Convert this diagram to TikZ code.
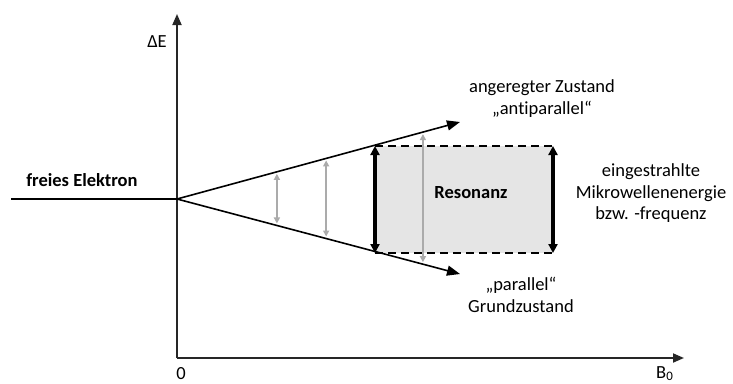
\documentclass[tikz,border=0pt]{standalone}
\usepackage{fontspec}
\setmainfont{Carlito}[Ligatures=NoCommon]
\usetikzlibrary{arrows.meta,calc}

\begin{document}
\begin{tikzpicture}[x=1pt,y=-1pt,
    lbl/.style={font=\fontsize{18.5}{21.5}\selectfont, align=center, inner sep=0pt},
    fett/.style={lbl, font=\fontsize{18.5}{21.5}\selectfont\bfseries},
    achse/.style={line width=1.8pt, draw=black!85, -{Triangle[length=11pt,width=9pt]}},
    niveau/.style={line width=1.6pt, -{Triangle[length=13pt,width=10pt]}},
    grauer/.style={draw=black!33, line width=1.8pt, shorten <=2pt, shorten >=2pt,
        {Triangle[length=6pt,width=6pt]}-{Triangle[length=6pt,width=6pt]}},
    dicker/.style={line width=3.2pt, {Triangle[length=9pt,width=9pt]}-{Triangle[length=9pt,width=9pt]}}]

    \useasboundingbox (0,0) rectangle (733,383);

    % Achsen
    \coordinate (O) at (177,358);
    \coordinate (Yend) at (177,14);
    \coordinate (Xend) at (684,358);
    \draw[achse] (O) -- (Yend);
    \draw[achse] (O) -- (Xend);
    \node[lbl, anchor=base] (dE) at (157,47) {ΔE};
    \node[lbl, anchor=base] (null) at (181,379) {0};
    \node[lbl, anchor=base west] (B0) at (656,378) {B\textsubscript{0}};

    % freies Elektron
    \coordinate (frei) at (11,199);
    \coordinate (S) at (177,199);
    \draw[line width=1.6pt] (frei) -- (S);
    \node[fett, anchor=base] (elektron) at (82,186) {freies Elektron};

    % Resonanzbereich
    \coordinate (R1) at (375,146);
    \coordinate (R2) at (553,253);
    \fill[black!10] (R1) rectangle (R2);
    \draw[line width=1.5pt, dash pattern=on 8pt off 5pt] (R1) -- (R1 -| R2);
    \draw[line width=1.5pt, dash pattern=on 8pt off 5pt] (R1 |- R2) -- (R2);

    % Aufspaltung
    \coordinate (oben) at (460,122);
    \coordinate (unten) at (460,274);
    \draw[niveau] (S) -- (oben);
    \draw[niveau] (S) -- (unten);
    \foreach \t in {0.353,0.527,0.869}
        \draw[grauer] ($(S)!\t!(oben)$) -- ($(S)!\t!(unten)$);
    \draw[dicker] (R1) -- (R1 |- R2);
    \draw[dicker] (R1 -| R2) -- (R2);

    % Beschriftungen
    \node[fett, anchor=base] (resonanz) at (471,198) {Resonanz};
    \node[lbl] (angeregt) at (542,98.5) {angeregter Zustand\\„antiparallel“};
    \node[lbl] (grund) at (521,295) {„parallel“\\Grundzustand};
    \node[lbl] (mikro) at (651,193.5) {eingestrahlte\\Mikrowellenenergie\\bzw. -frequenz};
\end{tikzpicture}
\end{document}
